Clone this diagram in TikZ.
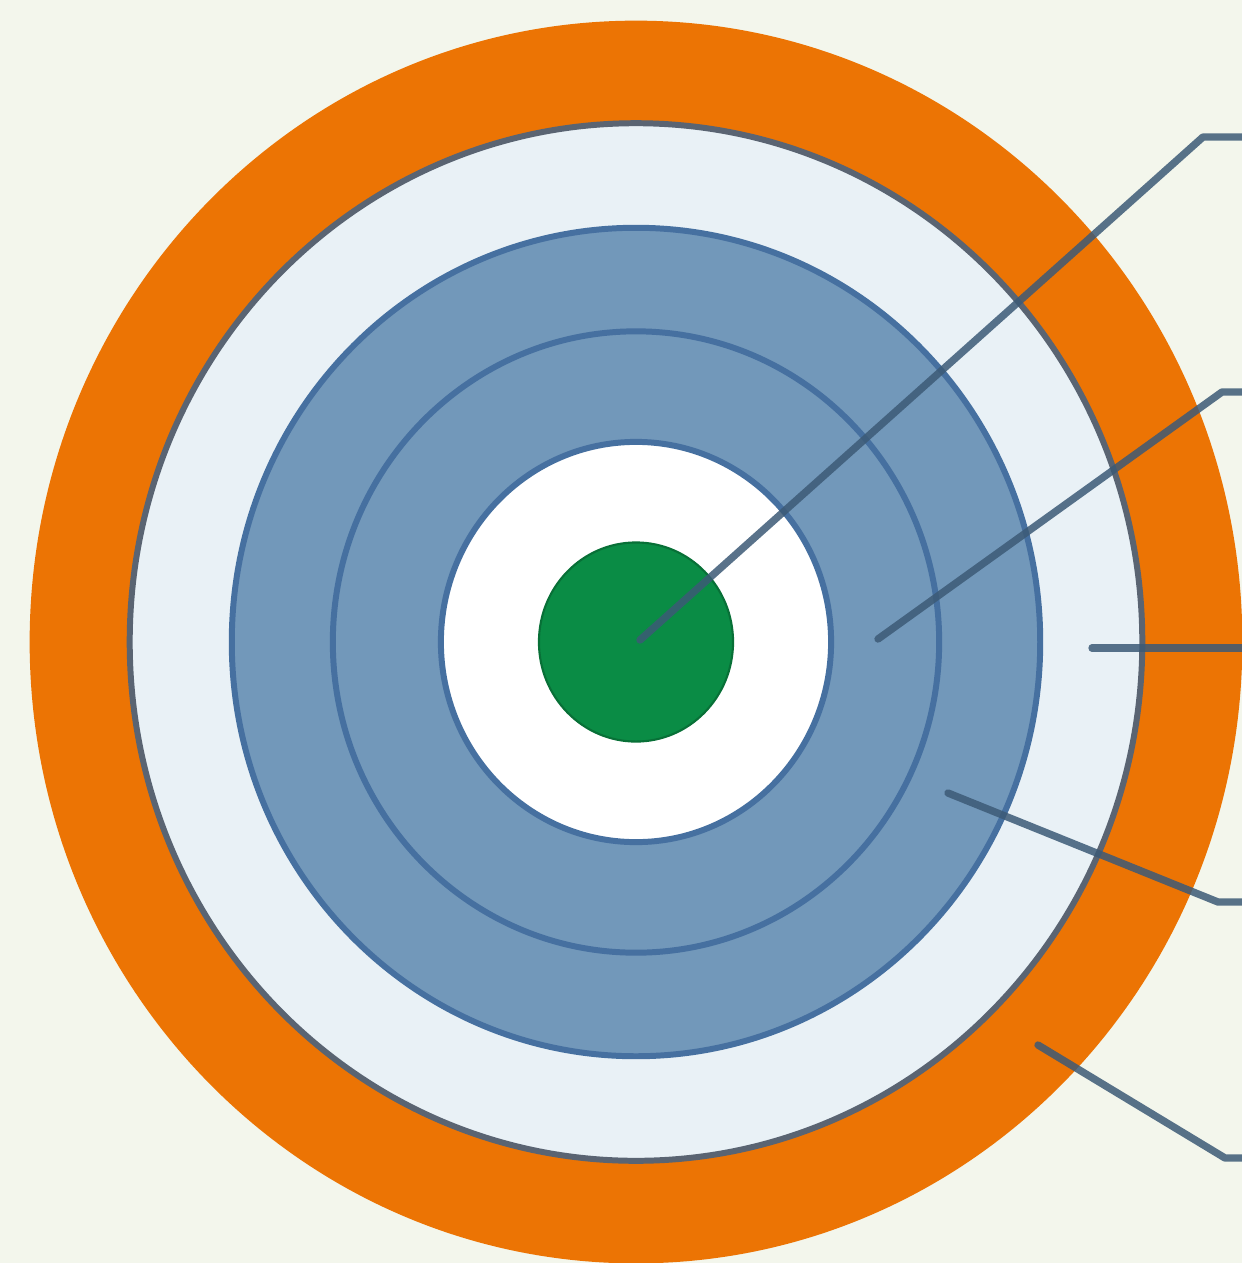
\documentclass[tikz,border=0pt]{standalone}
\usepackage{tikz}
\usetikzlibrary{shapes.geometric, positioning}
\definecolor{bgcream}    {HTML}{F3F6EC}
\definecolor{orangeband} {HTML}{EC7404}
\definecolor{paleband}   {HTML}{E9F1F6}
\definecolor{blueband}   {HTML}{7298BA}
\definecolor{bluerim}    {HTML}{4670A0}
\definecolor{grayrim}    {HTML}{5A6472}
\definecolor{coregreen}  {HTML}{0A8C45}
\definecolor{leadercol}  {HTML}{3C5A76}
\tikzset{
  ring/.style={
    ellipse, inner sep=0pt, fill=#1, draw=none
  },
  rimring/.style={
    ellipse, inner sep=0pt, fill=#1, line width=1.7pt
  },
  leader/.style={
    line width=2.1pt, color=leadercol, opacity=0.85,
    line join=round, line cap=round
  }
}

\begin{document}
\begin{tikzpicture}[x=0.01cm, y=-0.01cm]
  \fill[bgcream] (0,0) rectangle (1242,1263);
  \useasboundingbox (0,0) rectangle (1242,1263);

  % concentric bands
  \node[ring=orangeband, minimum width=12.12cm, minimum height=12.42cm] (outer) at (636,642) {};
  \node[rimring=paleband, draw=grayrim, minimum width=10.12cm, minimum height=10.37cm] (pale) at (outer.center) {};
  \node[rimring=blueband, draw=bluerim, minimum width=8.08cm, minimum height=8.28cm] (blue) at (outer.center) {};
  \node[ellipse, inner sep=0pt, draw=bluerim, line width=1.7pt,
        minimum width=6.06cm, minimum height=6.21cm] (mid) at (outer.center) {};
  \node[rimring=white, draw=bluerim, minimum width=3.90cm, minimum height=4.00cm] (inner) at (outer.center) {};
  \node[ring=coregreen, draw=coregreen!80!black, line width=0.6pt,
        minimum width=1.94cm, minimum height=1.99cm] (core) at (outer.center) {};

  % leader lines
  \coordinate (s2) at (878,639);
  \coordinate (s3) at (1092,648);
  \coordinate (s4) at (948,793);
  \coordinate (s5) at (1038,1045);
  \coordinate (k1) at (1203,137);
  \coordinate (k2) at (1222,392);
  \coordinate (k4) at (1218,902);
  \coordinate (k5) at (1225,1158);
  \coordinate (e1) at (1260,137);
  \coordinate (e2) at (1260,392);
  \coordinate (e3) at (1260,648);
  \coordinate (e4) at (1260,902);
  \coordinate (e5) at (1260,1158);

  \draw[leader] ([shift={(4,-2)}]core.center) -- (k1) -- (e1);
  \draw[leader] (s2) -- (k2) -- (e2);
  \draw[leader] (s3) -- (e3);
  \draw[leader] (s4) -- (k4) -- (e4);
  \draw[leader] (s5) -- (k5) -- (e5);
\end{tikzpicture}
\end{document}
